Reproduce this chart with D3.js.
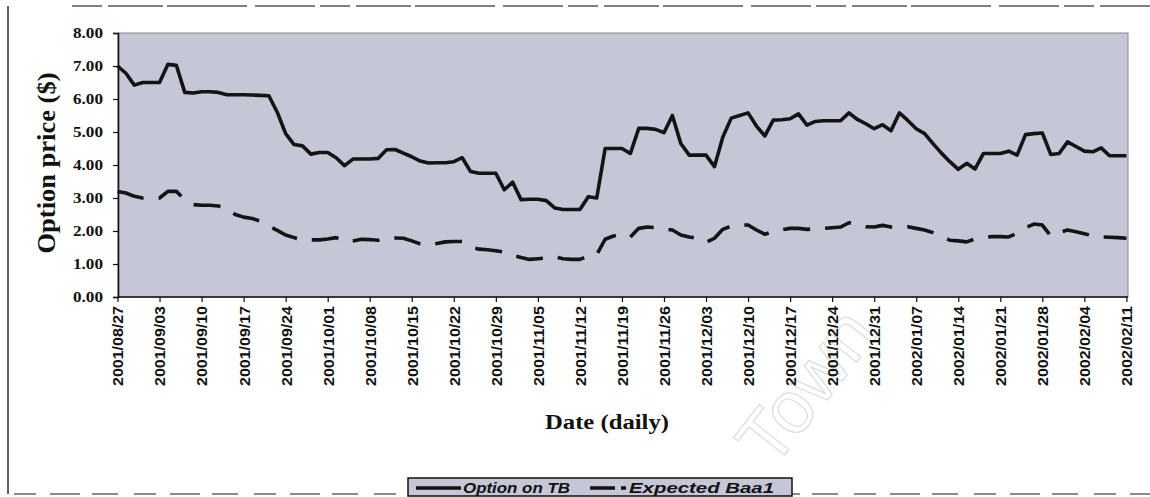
<!DOCTYPE html>
<html>
<head>
<meta charset="utf-8">
<script src="https://cdn.jsdelivr.net/npm/d3@7"></script>
<style>
  html, body { margin: 0; padding: 0; background: #fff; }
  svg { display: block; }
</style>
</head>
<body>
<svg id="chart" width="1150" height="497"></svg>
<script>
// ---------------- data ----------------
const startDay = "2001-08-27";
const endDay = "2002-02-11";

const tickLabels = [
  "2001/08/27","2001/09/03","2001/09/10","2001/09/17","2001/09/24",
  "2001/10/01","2001/10/08","2001/10/15","2001/10/22","2001/10/29",
  "2001/11/05","2001/11/12","2001/11/19","2001/11/26","2001/12/03",
  "2001/12/10","2001/12/17","2001/12/24","2001/12/31","2002/01/07",
  "2002/01/14","2002/01/21","2002/01/28","2002/02/04","2002/02/11"
];

const yTicks = [0, 1, 2, 3, 4, 5, 6, 7, 8];

// Option on TB (daily, business days)
const optionOnTB = [
  7.00, 6.78, 6.42, 6.50, 6.50, 6.50, 7.05, 7.02, 6.20, 6.18,
  6.22, 6.22, 6.20, 6.13, 6.13, 6.13, 6.12, 6.11, 6.10, 5.60,
  4.95, 4.62, 4.58, 4.33, 4.38, 4.38, 4.22, 3.98, 4.18, 4.18,
  4.18, 4.20, 4.46, 4.47, 4.36, 4.25, 4.12, 4.06, 4.07, 4.07,
  4.10, 4.22, 3.80, 3.75, 3.75, 3.75, 3.25, 3.48, 2.95, 2.96,
  2.96, 2.92, 2.70, 2.65, 2.65, 2.65, 3.04, 3.00, 4.50, 4.50,
  4.50, 4.35, 5.11, 5.11, 5.08, 4.98, 5.50, 4.65, 4.30, 4.30,
  4.30, 3.95, 4.85, 5.42, 5.50, 5.58, 5.18, 4.88, 5.36, 5.37,
  5.40, 5.55, 5.21, 5.32, 5.34, 5.34, 5.34, 5.58, 5.38, 5.25,
  5.10, 5.22, 5.04, 5.58, 5.35, 5.10, 4.95, 4.65, 4.36, 4.10,
  3.87, 4.05, 3.88, 4.35, 4.35, 4.35, 4.42, 4.30, 4.92, 4.95,
  4.97, 4.32, 4.35, 4.70, 4.56, 4.42, 4.40, 4.52, 4.28, 4.28,
  4.28
];

// Expected Baa1 (daily, business days)
const expectedBaa1 = [
  3.20, 3.15, 3.05, 3.00, 3.00, 3.00, 3.20, 3.20, 2.95, 2.80,
  2.78, 2.78, 2.76, 2.70, 2.50, 2.42, 2.38, 2.30, 2.15, 2.02,
  1.88, 1.80, 1.73, 1.73, 1.73, 1.76, 1.80, 1.68, 1.70, 1.75,
  1.74, 1.72, 1.78, 1.79, 1.78, 1.70, 1.61, 1.58, 1.62, 1.67,
  1.68, 1.68, 1.52, 1.45, 1.43, 1.40, 1.36, 1.26, 1.20, 1.14,
  1.16, 1.18, 1.22, 1.16, 1.14, 1.14, 1.24, 1.28, 1.75, 1.85,
  1.90, 1.82, 2.08, 2.12, 2.10, 2.06, 2.03, 1.88, 1.82, 1.77,
  1.65, 1.78, 2.05, 2.15, 2.18, 2.18, 2.03, 1.90, 1.98, 2.04,
  2.08, 2.08, 2.05, 2.07, 2.08, 2.10, 2.12, 2.25, 2.20, 2.13,
  2.12, 2.17, 2.12, 2.12, 2.13, 2.08, 2.03, 1.95, 1.85, 1.72,
  1.70, 1.67, 1.76, 1.80, 1.83, 1.83, 1.82, 1.93, 2.10, 2.21,
  2.18, 1.85, 1.95, 2.03, 1.98, 1.92, 1.85, 1.82, 1.81, 1.80,
  1.78
];

const seriesNames = ["Option on TB", "Expected Baa1"];
const yTitle = "Option price ($)";
const xTitle = "Date (daily)";

// ---------------- chart ----------------
const svg = d3.select("#chart");
const fmt = d3.utcFormat("%Y/%m/%d");
const parse = d3.utcParse("%Y-%m-%d");
const days = d3.utcDay.range(parse(startDay), d3.utcDay.offset(parse(endDay), 1))
  .filter(d => d.getUTCDay() !== 0 && d.getUTCDay() !== 6)
  .map(fmt);

const plot = { left: 118, right: 1128, top: 33, bottom: 297 };
const x = d3.scalePoint().domain(days).range([117.5, 1126.4]);
const y = d3.scaleLinear().domain([0, 8]).range([plot.bottom, plot.top]);

const bg = "#c5c6d6";

// outer frame (scanned page border)
const frame = svg.append("g").attr("stroke", "#3a3a3a").attr("fill", "none");
frame.append("line").attr("x1", 8).attr("y1", 6).attr("x2", 8).attr("y2", 494).attr("stroke-width", 1.6);
frame.append("line").attr("x1", 72).attr("y1", 6).attr("x2", 1150).attr("y2", 6)
  .attr("stroke-width", 1.3).attr("stroke", "#555").attr("stroke-dasharray", "30 6 55 4 80 8 60 5");
frame.append("line").attr("x1", 14).attr("y1", 494).attr("x2", 1150).attr("y2", 494)
  .attr("stroke-width", 1.6).attr("stroke", "#666").attr("stroke-dasharray", "22 14 30 12 26 16");

// watermark
svg.append("text")
  .attr("transform", "translate(826,402) rotate(-52)")
  .attr("text-anchor", "middle")
  .attr("font-family", "Liberation Sans, Arial, sans-serif")
  .attr("font-size", 74)
  .attr("fill", "none")
  .attr("stroke", "#dcdcdc")
  .attr("stroke-width", 1.2)
  .text("Town");

// plot background
svg.append("rect")
  .attr("x", plot.left).attr("y", plot.top)
  .attr("width", plot.right - plot.left).attr("height", plot.bottom - plot.top)
  .attr("fill", bg).attr("stroke", "#8a8a8a").attr("stroke-width", 1);

// lines
const line = d3.line()
  .x((d, i) => x(days[i]))
  .y(d => y(d));

svg.append("path")
  .datum(optionOnTB)
  .attr("d", line)
  .attr("fill", "none")
  .attr("stroke", "#141414")
  .attr("stroke-width", 3.6)
  .attr("stroke-linejoin", "round");

svg.append("path")
  .datum(expectedBaa1)
  .attr("d", line)
  .attr("fill", "none")
  .attr("stroke", "#141414")
  .attr("stroke-width", 3.6)
  .attr("stroke-linejoin", "round")
  .attr("stroke-dasharray", "27 15");

// y axis
const yAxis = svg.append("g")
  .attr("transform", `translate(${plot.left},0)`)
  .call(d3.axisLeft(y).tickValues(yTicks).tickFormat(d3.format(".2f")).tickSize(5).tickPadding(10));
yAxis.select(".domain").attr("stroke", "#111").attr("stroke-width", 1.6);
yAxis.selectAll(".tick line").attr("stroke", "#111").attr("stroke-width", 1.2);
yAxis.selectAll(".tick text")
  .attr("font-family", "Liberation Serif, Times New Roman, serif")
  .attr("font-weight", "bold")
  .attr("font-size", 15)
  .attr("fill", "#111")
  .attr("textLength", 30)
  .attr("lengthAdjust", "spacingAndGlyphs");

// x axis
const xAxis = svg.append("g")
  .attr("transform", `translate(0,${plot.bottom})`)
  .call(d3.axisBottom(x).tickValues(tickLabels).tickSize(5).tickSizeOuter(0));
xAxis.select(".domain").attr("stroke", "#111").attr("stroke-width", 1.6)
  .attr("d", `M${plot.left},0H${plot.right}`);
xAxis.selectAll(".tick line").attr("stroke", "#111").attr("stroke-width", 1.2);
xAxis.selectAll(".tick text")
  .attr("transform", "rotate(-90)")
  .attr("text-anchor", "end")
  .attr("x", -9)
  .attr("y", 0)
  .attr("dy", "0.36em")
  .attr("font-family", "Liberation Sans, Arial, sans-serif")
  .attr("font-weight", "bold")
  .attr("font-size", 15)
  .attr("fill", "#111")
  .attr("textLength", 80)
  .attr("lengthAdjust", "spacingAndGlyphs");

// axis titles
svg.append("text")
  .attr("transform", "translate(55,163) rotate(-90)")
  .attr("text-anchor", "middle")
  .attr("font-family", "Liberation Serif, Times New Roman, serif")
  .attr("font-weight", "bold")
  .attr("font-size", 26)
  .attr("fill", "#111")
  .attr("textLength", 181)
  .attr("lengthAdjust", "spacingAndGlyphs")
  .text(yTitle);

svg.append("text")
  .attr("x", 545).attr("y", 429)
  .attr("font-family", "Liberation Serif, Times New Roman, serif")
  .attr("font-weight", "bold")
  .attr("font-size", 20)
  .attr("fill", "#111")
  .attr("textLength", 124)
  .attr("lengthAdjust", "spacingAndGlyphs")
  .text(xTitle);

// legend
const lg = svg.append("g");
lg.append("rect")
  .attr("x", 408).attr("y", 478).attr("width", 384).attr("height", 18)
  .attr("fill", bg).attr("stroke", "#111").attr("stroke-width", 1.5);
lg.append("line").attr("x1", 416).attr("x2", 461).attr("y1", 488).attr("y2", 488)
  .attr("stroke", "#111").attr("stroke-width", 3.4);
lg.append("text").attr("x", 463).attr("y", 493)
  .attr("font-family", "Liberation Sans, Arial, sans-serif")
  .attr("font-weight", "bold").attr("font-style", "italic")
  .attr("font-size", 14).attr("fill", "#111")
  .attr("textLength", 107).attr("lengthAdjust", "spacingAndGlyphs")
  .text(seriesNames[0]);
lg.append("line").attr("x1", 590).attr("x2", 626).attr("y1", 488).attr("y2", 488)
  .attr("stroke", "#111").attr("stroke-width", 3.4).attr("stroke-dasharray", "25 6 5 40");
lg.append("text").attr("x", 629).attr("y", 493)
  .attr("font-family", "Liberation Sans, Arial, sans-serif")
  .attr("font-weight", "bold").attr("font-style", "italic")
  .attr("font-size", 14).attr("fill", "#111")
  .attr("textLength", 145).attr("lengthAdjust", "spacingAndGlyphs")
  .text(seriesNames[1]);
</script>
</body>
</html>
